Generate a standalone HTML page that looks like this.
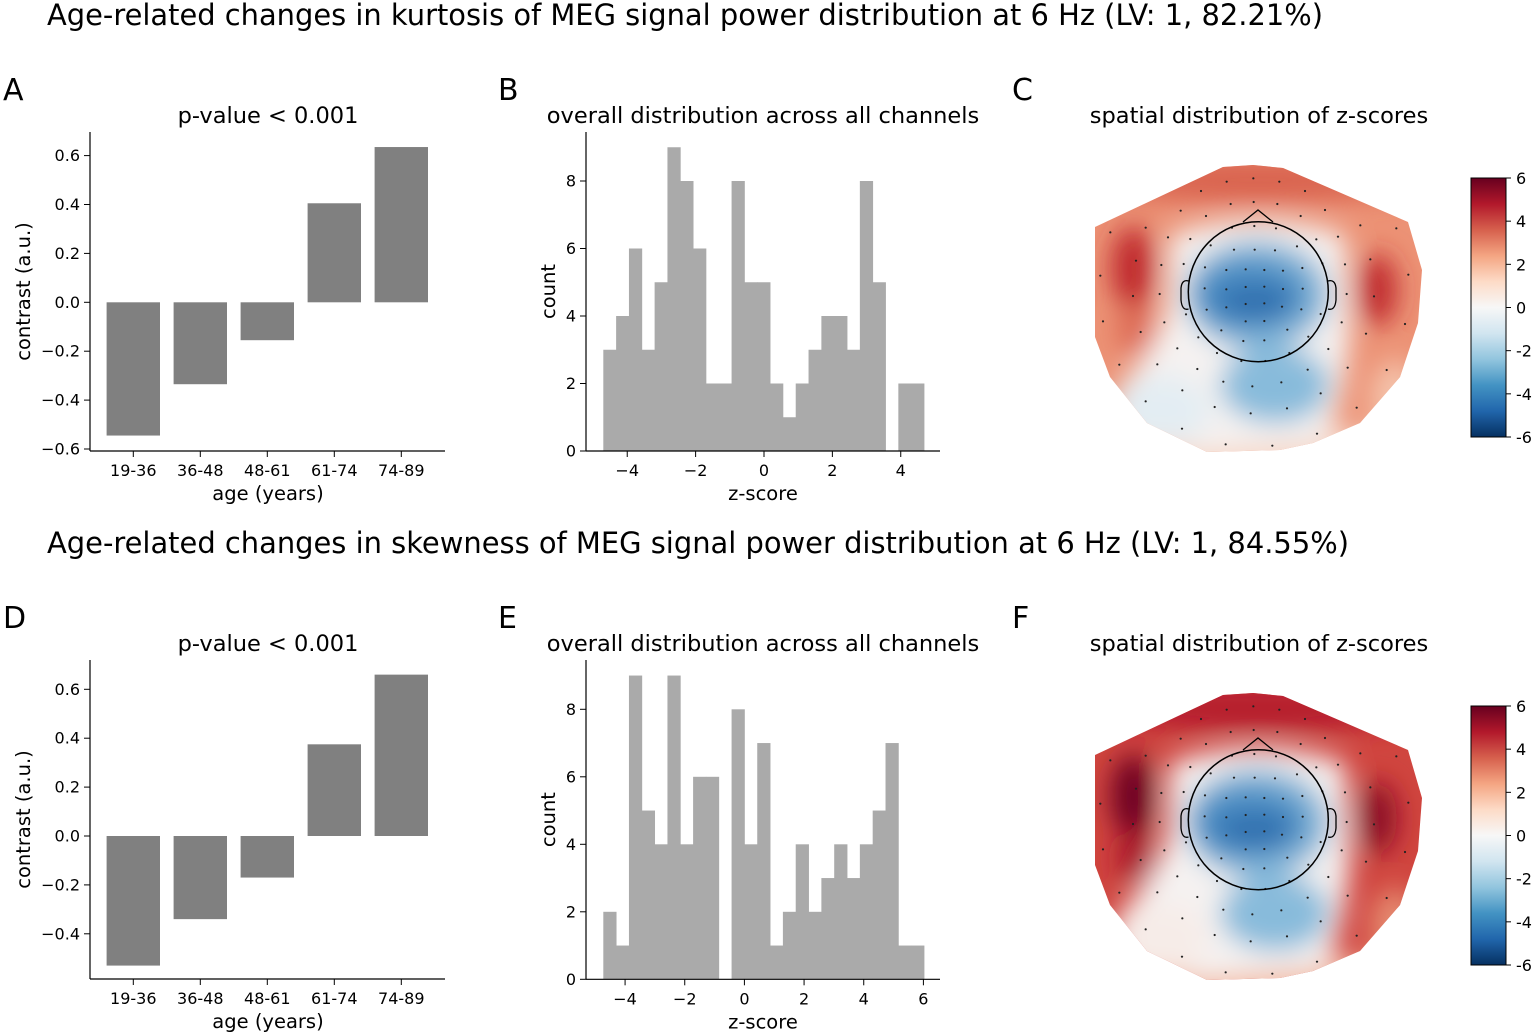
<!DOCTYPE html>
<html><head><meta charset="utf-8"><style>
html,body{margin:0;padding:0;background:#fff;}
svg{display:block;font-family:"DejaVu Sans","Liberation Sans",sans-serif;}
</style></head><body>
<svg id="fig" width="1535" height="1035" viewBox="0 0 1535 1035" xmlns="http://www.w3.org/2000/svg">
<defs>
<filter id="blur" x="-50%" y="-50%" width="200%" height="200%"><feGaussianBlur stdDeviation="13"/></filter>
<linearGradient id="cbar" x1="0" y1="1" x2="0" y2="0">
<stop offset="0" stop-color="#053061"/><stop offset="0.1" stop-color="#2166ac"/><stop offset="0.2" stop-color="#4393c3"/><stop offset="0.3" stop-color="#92c5de"/><stop offset="0.4" stop-color="#d1e5f0"/><stop offset="0.5" stop-color="#f7f7f7"/><stop offset="0.6" stop-color="#fddbc7"/><stop offset="0.7" stop-color="#f4a582"/><stop offset="0.8" stop-color="#d6604d"/><stop offset="0.9" stop-color="#b2182b"/><stop offset="1" stop-color="#67001f"/>
</linearGradient>
</defs>
<text x="47" y="25" font-size="29" textLength="1276" lengthAdjust="spacingAndGlyphs">Age-related changes in kurtosis of MEG signal power distribution at 6 Hz (LV: 1, 82.21%)</text>
<text x="47" y="553" font-size="29" textLength="1302" lengthAdjust="spacingAndGlyphs">Age-related changes in skewness of MEG signal power distribution at 6 Hz (LV: 1, 84.55%)</text>
<g id="root"></g>
</svg>
<script>
// Panel A/D data
const ageGroups = ["19-36","36-48","48-61","61-74","74-89"];
const kurtContrast = [-0.545,-0.335,-0.155,0.405,0.635];
const skewContrast = [-0.53,-0.34,-0.17,0.375,0.66];
const kurtTicks = [-0.6,-0.4,-0.2,0.0,0.2,0.4,0.6];
const skewTicks = [-0.4,-0.2,0.0,0.2,0.4,0.6];
// Panel B/E data
const kurtCounts = [3,4,6,3,5,9,8,6,2,2,8,5,5,2,1,2,3,4,4,3,8,5,0,2,2];
const kurtRange = [-4.70,4.68];
const kurtZTicks = [-4,-2,0,2,4];
const skewCounts = [2,1,9,5,4,9,4,6,6,0,8,4,7,1,2,4,2,3,4,3,4,5,7,1,1];
const skewRange = [-4.73,6.02];
const skewZTicks = [-4,-2,0,2,4,6];
const countTicks = [0,2,4,6,8];
const cbarTicks = [6,4,2,0,-2,-4,-6];

const NS="http://www.w3.org/2000/svg";
const root=document.getElementById('root');
function mk(tag,attrs,parent,text){const e=document.createElementNS(NS,tag);for(const k in attrs)e.setAttribute(k,attrs[k]);if(text!==undefined)e.textContent=text;(parent||root).appendChild(e);return e;}

function barPanel(dy,vals,ticks,zeroY,letter){
  const g=mk('g',{});
  
  
  const ppu=244.5;
  const ys=v=>zeroY-v*ppu;
  const xs=i=>133.3+i*67;
  let t=mk('text',{x:3,y:100+dy,'font-size':30},g,letter);
  
  
  t=mk('text',{x:268,y:123+dy,'font-size':22.5,'text-anchor':'middle'},g,'p-value < 0.001');
  
  
  vals.forEach((v,i)=>{
    const r=mk('rect',{x:xs(i)-26.7,y:Math.min(ys(v),zeroY),width:53.4,height:Math.abs(ys(v)-zeroY),fill:'#808080'},g);
    
    
  });
  const bottom=451+dy, top=132+dy;
  mk('line',{x1:90,y1:top,x2:90,y2:bottom,stroke:'#000','stroke-width':1.2},g);
  mk('line',{x1:90,y1:bottom,x2:445,y2:bottom,stroke:'#000','stroke-width':1.2},g);
  ticks.forEach(v=>{
    const y=ys(v);
    mk('line',{x1:84,y1:y,x2:90,y2:y,stroke:'#000'},g);
    const tl=mk('text',{x:80,y:y+5.5,'font-size':16,'text-anchor':'end'},g,(v<0?'\u2212':'')+Math.abs(v).toFixed(1));
    
    
  });
  ageGroups.forEach((a,i)=>{
    mk('line',{x1:xs(i),y1:bottom,x2:xs(i),y2:bottom+6,stroke:'#000'},g);
    const tl=mk('text',{x:xs(i),y:bottom+25,'font-size':16,'text-anchor':'middle'},g,a);
    
    
  });
  t=mk('text',{x:268,y:bottom+49,'font-size':19.5,'text-anchor':'middle'},g,'age (years)');
  
  
  t=mk('text',{x:0,y:0,'font-size':19.5,'text-anchor':'middle',transform:`translate(30,${(top+bottom)/2}) rotate(-90)`},g,'contrast (a.u.)');
  
  
}

function histPanel(dy,counts,range,ticks,x0,x1,letter,zeroY){
  const g=mk('g',{});
  
  
  const ppx=(x1-x0)/(range[1]-range[0]);
  const xs=v=>x0+(v-range[0])*ppx;
  const ys=c=>zeroY-c*33.75;
  let t=mk('text',{x:498,y:100+dy,'font-size':30},g,letter);
  
  
  t=mk('text',{x:763,y:123+dy,'font-size':22.5,'text-anchor':'middle'},g,'overall distribution across all channels');
  
  
  const bw=(range[1]-range[0])/counts.length;
  counts.forEach((c,i)=>{
    if(!c)return;
    const a=xs(range[0]+i*bw), b=xs(range[0]+(i+1)*bw);
    const r=mk('rect',{x:a,y:ys(c),width:b-a+0.4,height:zeroY-ys(c),fill:'#aaaaaa'},g);
    
    
  });
  mk('line',{x1:586,y1:132+dy,x2:586,y2:zeroY,stroke:'#000','stroke-width':1.2},g);
  mk('line',{x1:586,y1:zeroY,x2:940,y2:zeroY,stroke:'#000','stroke-width':1.2},g);
  countTicks.forEach(c=>{
    const y=ys(c);
    mk('line',{x1:580,y1:y,x2:586,y2:y,stroke:'#000'},g);
    const tl=mk('text',{x:576,y:y+5.5,'font-size':16,'text-anchor':'end'},g,String(c));
    
    
  });
  ticks.forEach(v=>{
    const x=xs(v);
    mk('line',{x1:x,y1:zeroY,x2:x,y2:zeroY+6,stroke:'#000'},g);
    const tl=mk('text',{x:x,y:zeroY+25,'font-size':16,'text-anchor':'middle'},g,(v<0?'\u2212':'')+Math.abs(v));
    
    
  });
  t=mk('text',{x:763,y:zeroY+49,'font-size':19.5,'text-anchor':'middle'},g,'z-score');
  
  
  t=mk('text',{x:0,y:0,'font-size':19.5,'text-anchor':'middle',transform:`translate(555,${(132+dy+zeroY)/2}) rotate(-90)`},g,'count');
  
  
}

const outline=[[1095,227],[1223,167],[1253,165],[1283,168],[1408,222],[1422,270],[1418,323],[1400,377],[1360,423],[1313,443],[1280,450],[1207,452],[1147,423],[1110,377],[1095,337]];
const sensors=[[440,95],[520,85],[598,95],[363,123],[675,123],[452,162],[521,156],[592,162],[302,182],[378,198],[735,180],[662,198],[197,233],[91,247],[456,233],[523,228],[588,235],[841,226],[949,235],[264,262],[331,267],[392,286],[709,268],[774,260],[462,299],[524,299],[585,301],[651,289],[168,332],[244,345],[311,342],[375,352],[439,360],[497,358],[553,360],[609,362],[667,354],[727,340],[795,343],[871,328],[61,377],[985,374],[159,438],[239,432],[374,415],[439,418],[497,411],[553,410],[609,417],[668,416],[800,432],[882,439],[318,493],[380,479],[439,472],[497,462],[553,460],[606,470],[664,478],[722,492],[69,514],[253,517],[785,517],[975,522],[182,546],[424,541],[497,514],[553,513],[622,539],[355,562],[685,560],[858,551],[292,595],[490,573],[553,571],[745,597],[411,609],[628,609],[118,644],[232,643],[352,657],[484,633],[556,633],[683,659],[803,653],[920,660],[430,695],[517,709],[604,697],[307,721],[722,730],[197,754],[404,771],[621,775],[512,790],[830,773],[306,836],[711,851],[437,883],[577,887]];

function topoPanel(dy,letter,strong){
  const g=mk('g',{});
  
  
  let t=mk('text',{x:1012,y:100+dy,'font-size':30},g,letter);
  
  
  t=mk('text',{x:1259,y:123+dy,'font-size':22.5,'text-anchor':'middle'},g,'spatial distribution of z-scores');
  
  
  const cid='clip'+letter;
  const cp=mk('clipPath',{id:cid},g);
  mk('polygon',{points:outline.map(p=>p[0]+','+(p[1]+dy)).join(' ')},cp);
  const cg=mk('g',{'clip-path':`url(#${cid})`},g);
  const base=strong?'#d0453f':'#ec9275';
  mk('rect',{x:1080,y:150+dy,width:360,height:320,fill:base},cg);
  const bg=mk('g',{filter:'url(#blur)'},cg);
  const Y=v=>v+dy;
  // lower outer fade (lighter near bottom)
  mk('ellipse',{cx:1258,cy:Y(470),rx:190,ry:45,fill:strong?'#f3b9a0':'#f6d7c8'},bg);
  mk('ellipse',{cx:1395,cy:Y(400),rx:25,ry:40,fill:strong?'#e58a70':'#f4c2aa'},bg);
  // top band
  mk('ellipse',{cx:1258,cy:Y(180),rx:170,ry:22,fill:strong?'#b51b2d':'#d9634f'},bg);
  // central white region
  mk('path',{d:`M1170 ${Y(235)} Q1258 ${Y(205)} 1345 ${Y(235)} L1350 ${Y(330)} Q1345 ${Y(400)} 1325 ${Y(440)} L1200 ${Y(450)} L1130 ${Y(430)} L1120 ${Y(385)} Q1165 ${Y(340)} 1168 ${Y(300)} Z`,fill:'#f5f2f1'},bg);
  mk('ellipse',{cx:1160,cy:Y(410),rx:50,ry:35,fill:strong?'#f6ece8':'#e3edf3'},bg);
  // blue areas
  mk('ellipse',{cx:1257,cy:Y(295),rx:72,ry:55,fill:'#7fb3d7'},bg);
  mk('ellipse',{cx:1275,cy:Y(385),rx:55,ry:38,fill:'#88bbdb'},bg);
  mk('ellipse',{cx:1250,cy:Y(295),rx:55,ry:35,fill:'#4a8bc2'},bg);
  mk('ellipse',{cx:1255,cy:Y(302),rx:38,ry:16,fill:'#2f6eae'},bg);
  // red hotspots
  mk('ellipse',{cx:1133,cy:Y(268),rx:22,ry:42,fill:strong?'#6e0520':'#c02a2e'},bg);
  mk('ellipse',{cx:1377,cy:Y(290),rx:20,ry:36,fill:strong?'#8c0d26':'#c02a2e'},bg);
  mk('ellipse',{cx:1135,cy:Y(330),rx:18,ry:25,fill:strong?'#a8162b':'#dd6b55'},bg);
  sensors.forEach(s=>{
    const d=mk('circle',{cx:s[0]/3+1080,cy:s[1]/3+150+dy,r:1.1,fill:'#222'},g);
    
    
  });
  const cy=291.7+dy;
  mk('circle',{cx:1258.3,cy:cy,r:70,fill:'none',stroke:'#000','stroke-width':1.5},g);
  mk('polyline',{points:`1243,${222+dy} 1258,${210+dy} 1273,${222+dy}`,fill:'none',stroke:'#000','stroke-width':1.3},g);
  mk('path',{d:`M1188.5 ${281+dy} Q1182 ${279+dy} 1181 ${288+dy} L1181 ${300+dy} Q1182 ${311+dy} 1188.5 ${309+dy}`,fill:'none',stroke:'#000','stroke-width':1.3},g);
  mk('path',{d:`M1328 ${281+dy} Q1335 ${279+dy} 1336 ${288+dy} L1336 ${300+dy} Q1335 ${311+dy} 1328 ${309+dy}`,fill:'none',stroke:'#000','stroke-width':1.3},g);
  const cb=mk('rect',{x:1471,y:178+dy,width:35,height:259,fill:'url(#cbar)',stroke:'#000','stroke-width':1},g);
  
  
  cbarTicks.forEach(v=>{
    const y=178+dy+(6-v)/12*259;
    mk('line',{x1:1506,y1:y,x2:1511,y2:y,stroke:'#000'},g);
    const tl=mk('text',{x:1516,y:y+6,'font-size':16},g,String(v));
    
    
  });
}

barPanel(0,kurtContrast,kurtTicks,302.3,'A');
barPanel(528,skewContrast,skewTicks,836,'D');
histPanel(0,kurtCounts,kurtRange,kurtZTicks,603.3,924,'B',451);
histPanel(528,skewCounts,skewRange,skewZTicks,603.3,924,'E',979.3);
topoPanel(0,'C',false);
topoPanel(528,'F',true);
</script>
</body></html>
